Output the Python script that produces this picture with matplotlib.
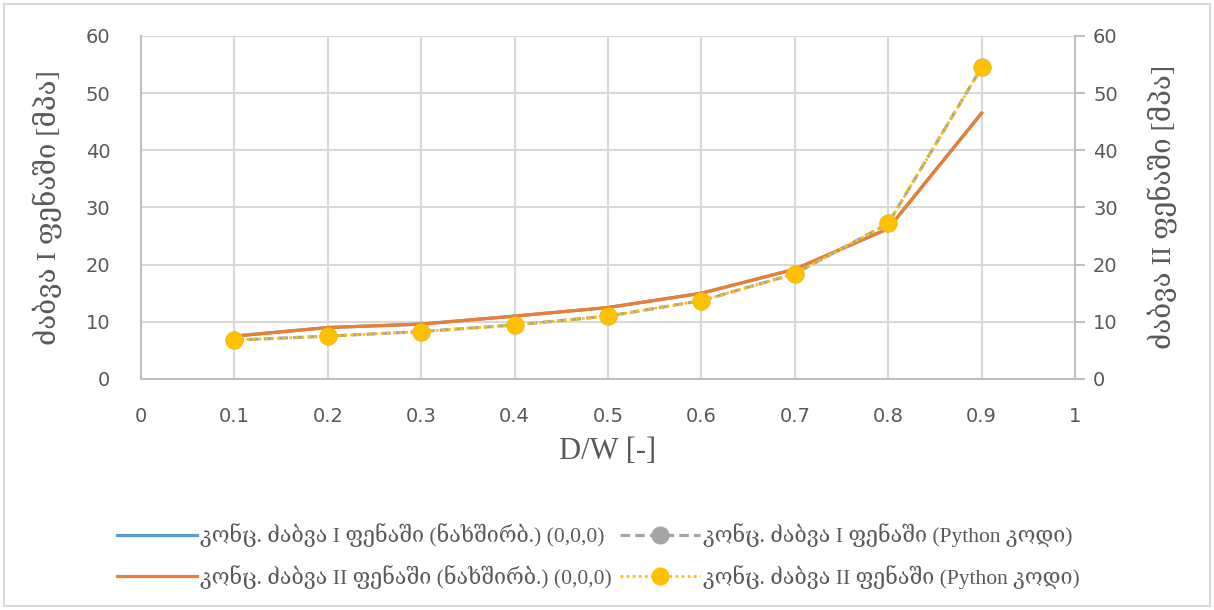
import matplotlib
matplotlib.use("Agg")
import matplotlib.pyplot as plt
from matplotlib.patches import Rectangle

# D/W ratio
dw = [0.1, 0.2, 0.3, 0.4, 0.5, 0.6, 0.7, 0.8, 0.9]

# stress concentration, analytic (carbon) and Python results [MPa]
s1_carbon = [7.5, 9.0, 9.6, 11.0, 12.5, 15.0, 19.2, 26.3, 46.5]
s2_carbon = [7.5, 9.0, 9.6, 11.0, 12.5, 15.0, 19.2, 26.3, 46.5]
s1_python = [6.8, 7.5, 8.3, 9.45, 11.0, 13.7, 18.4, 27.2, 54.5]
s2_python = [6.8, 7.5, 8.3, 9.45, 11.0, 13.7, 18.4, 27.2, 54.5]

labels = [
    "კონც. ძაბვა I ფენაში (ნახშირბ.) (0,0,0)",
    "კონც. ძაბვა II ფენაში (ნახშირბ.) (0,0,0)",
    "კონც. ძაბვა I ფენაში (Python კოდი)",
    "კონც. ძაბვა II ფენაში (Python კოდი)",
]

serif = ["Liberation Serif", "DejaVu Serif"]
tick_col = "#595959"
grid_col = "#d9d9d9"

fig = plt.figure(figsize=(12.14, 6.10), dpi=100)
ax = fig.add_axes([0.1161, 0.3787, 0.7694, 0.5623])

ax.plot(dw, s1_carbon, color="#5b9bd5", lw=2.3, label=labels[0], zorder=3)
ax.plot(dw, s2_carbon, color="#ed7d31", lw=2.3, label=labels[1], zorder=4)
ax.plot(dw, s1_python, color="#a5a5a5", lw=2.3, ls=(0, (3, 1.6)), marker="o",
        ms=12, label=labels[2], zorder=5)
ax.plot(dw, s2_python, color="#ffc000", lw=2.0, ls=(0, (1, 1.2)), marker="o",
        ms=12, label=labels[3], zorder=6)

ax.set_xlim(0, 1)
ax.set_ylim(0, 60)
ax.set_xticks([0, 0.1, 0.2, 0.3, 0.4, 0.5, 0.6, 0.7, 0.8, 0.9, 1])
ax.set_xticklabels(["0", "0.1", "0.2", "0.3", "0.4", "0.5", "0.6", "0.7", "0.8", "0.9", "1"])
ax.set_yticks(range(0, 61, 10))
ax.grid(True, color=grid_col, lw=1.5)
ax.set_axisbelow(True)
for side in ["top", "right"]:
    ax.spines[side].set_visible(False)
for side in ["left", "bottom"]:
    ax.spines[side].set_color("#bfbfbf")
    ax.spines[side].set_linewidth(1.5)
ax.tick_params(length=0, labelsize=14, labelcolor=tick_col)
ax.tick_params(axis="y", pad=22)
ax.tick_params(axis="x", pad=20)

ax2 = ax.twinx()
ax2.set_ylim(0, 60)
ax2.set_yticks(range(0, 61, 10))
for side in ["top", "left", "bottom"]:
    ax2.spines[side].set_visible(False)
ax2.spines["right"].set_color("#bfbfbf")
ax2.spines["right"].set_linewidth(1.5)
ax2.tick_params(axis="y", length=7, width=1.5, color="#bfbfbf", direction="out",
                labelsize=14, labelcolor=tick_col, pad=6)

ax.set_ylabel("ძაბვა I ფენაში [მპა]", family=serif, fontsize=20, color=tick_col, labelpad=16)
ax2.set_ylabel("ძაბვა II ფენაში [მპა]", family=serif, fontsize=20, color=tick_col, labelpad=22)
ax.set_xlabel("D/W [-]", family=serif, fontsize=22, color=tick_col, labelpad=8)

fig.legend(loc="center", bbox_to_anchor=(0.493, 0.0885), ncol=2, frameon=False,
           prop={"family": serif, "size": 15.5}, labelcolor=tick_col,
           handlelength=3.7, columnspacing=0.4, handletextpad=0.15, labelspacing=0.8)

fig.patches.append(Rectangle((0.003, 0.006), 0.994, 0.988, transform=fig.transFigure,
                             fill=False, edgecolor=grid_col, lw=1.5))

fig.savefig("out.png", dpi=100)
